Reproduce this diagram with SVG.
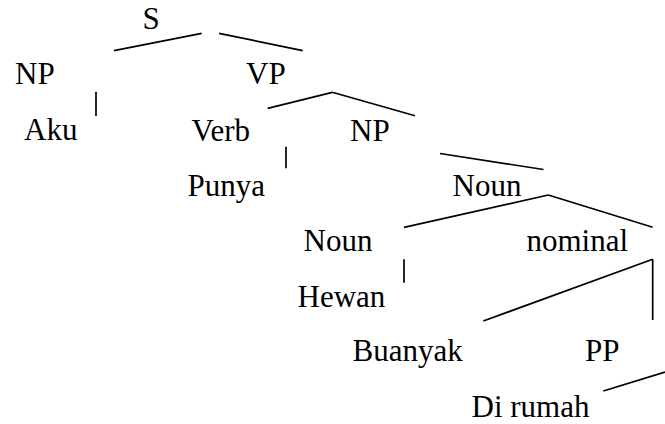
<svg xmlns="http://www.w3.org/2000/svg" width="665" height="424" viewBox="0 0 665 424">
<style>
text{font-family:'Liberation Serif','Times New Roman',serif;font-size:31px;fill:#000}
line{stroke:#000;stroke-width:1.7;stroke-linecap:butt}
</style>
<rect width="665" height="424" fill="#fff"/>
<g id="connectors">
<line x1="114" y1="50.7" x2="201.7" y2="33.3"/>
<line x1="219" y1="33.3" x2="302.7" y2="50.7"/>
<line x1="96" y1="91.7" x2="96" y2="116"/>
<line x1="267.7" y1="108.3" x2="332.3" y2="92.3"/>
<line x1="332.3" y1="92.3" x2="415" y2="115.7"/>
<line x1="286" y1="146.7" x2="286" y2="168.3"/>
<line x1="440" y1="153.5" x2="543.5" y2="169.5"/>
<line x1="404" y1="227.3" x2="548.3" y2="195"/>
<line x1="548.3" y1="195" x2="652.7" y2="227.3"/>
<line x1="404" y1="259.3" x2="404" y2="282.7"/>
<line x1="483.3" y1="321" x2="652.7" y2="259.3"/>
<line x1="652.7" y1="259.3" x2="652.7" y2="320"/>
<line x1="603.3" y1="391" x2="665" y2="372"/>
</g>
<g id="S"><text x="142.5" y="29">S</text></g>
<g id="NP1"><text x="15" y="84">NP</text></g>
<g id="VP"><text x="246" y="84">VP</text></g>
<g id="Aku"><text x="24" y="140">Aku</text></g>
<g id="Verb"><text x="191.5" y="141">Verb</text></g>
<g id="NP2"><text x="350" y="141">NP</text></g>
<g id="Punya"><text x="187.5" y="195.5">Punya</text></g>
<g id="Noun1"><text x="452.5" y="195.5">Noun</text></g>
<g id="Noun2"><text x="303.5" y="251">Noun</text></g>
<g id="nominal"><text x="526.5" y="251">nominal</text></g>
<g id="Hewan"><text x="297.5" y="306.5">Hewan</text></g>
<g id="Buanyak"><text x="352.5" y="361">Buanyak</text></g>
<g id="PP"><text x="585" y="361">PP</text></g>
<g id="Dirumah"><text x="471.5" y="416.5">Di rumah</text></g>
</svg>
